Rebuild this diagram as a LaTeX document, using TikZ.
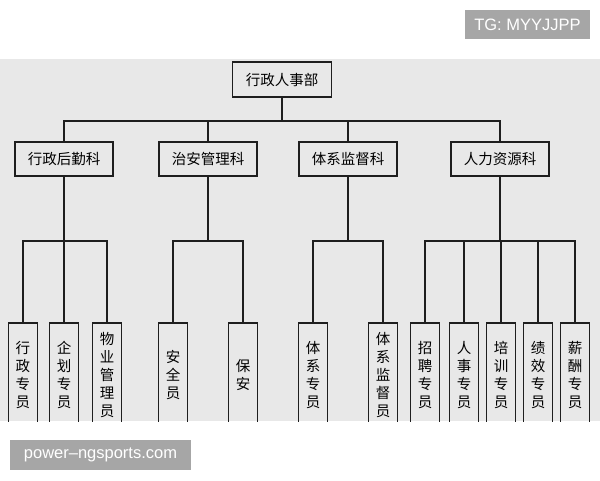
\documentclass[tikz,border=0pt]{standalone}
\usepackage{fontspec}
\newfontfamily\cjk{Noto Sans CJK SC}
\newfontfamily\wmfont{Liberation Sans}
\definecolor{bggray}{HTML}{E8E8E8}
\definecolor{wmgray}{HTML}{A6A6A6}
\definecolor{inkgray}{HTML}{1E1E1E}
\tikzset{
	dept/.style={draw=inkgray,line width=1.2pt,inner sep=0pt,minimum width=98pt,minimum height=34pt,font=\cjk\fontsize{14.5}{14.5}\selectfont},
	post/.style={draw=inkgray,line width=1.2pt,inner sep=0pt,minimum width=29pt,minimum height=104pt,align=center,font=\cjk\fontsize{14.5}{17.8}\selectfont},
	link/.style={draw=inkgray,line width=1.2pt},
	wmbox/.style={fill=wmgray,text=white,inner sep=0pt,font=\wmfont\fontsize{16.5}{16.5}\selectfont}
}
\begin{document}
\begin{tikzpicture}[x=1pt,y=-1pt]
		\useasboundingbox (0,0) rectangle (600,480);
		\fill[bggray] (0,59) rectangle (600,421);
		\begin{scope}
		\clip (0,59) rectangle (600,421);
		\node[dept,minimum width=99pt,minimum height=35pt] (top) at (282,79.5) {行政人事部};
		\node[dept] (k1) at (64,159) {行政后勤科};
		\node[dept] (k2) at (208,159) {治安管理科};
		\node[dept] (k3) at (348,159) {体系监督科};
		\node[dept] (k4) at (500,159) {人力资源科};
		\coordinate (b0) at (282,121);
		\draw[link] (top.south) -- (b0);
		\draw[link] (k1.north) |- (b0) -| (k4.north);
		\draw[link] (k2.north) -- (k2.north |- b0);
		\draw[link] (k3.north) -- (k3.north |- b0);
		\node[post] (p1) at (23,375) {行\\政\\专\\员};
		\node[post] (p2) at (64,375) {企\\划\\专\\员};
		\node[post] (p3) at (107,375) {物\\业\\管\\理\\员};
		\node[post] (p4) at (173,375) {安\\全\\员};
		\node[post] (p5) at (243,375) {保\\安};
		\node[post] (p6) at (313,375) {体\\系\\专\\员};
		\node[post] (p7) at (383,375) {体\\系\\监\\督\\员};
		\node[post] (p8) at (425,375) {招\\聘\\专\\员};
		\node[post] (p9) at (464,375) {人\\事\\专\\员};
		\node[post] (p10) at (501,375) {培\\训\\专\\员};
		\node[post] (p11) at (538,375) {绩\\效\\专\\员};
		\node[post] (p12) at (575,375) {薪\\酬\\专\\员};
		\coordinate (g1) at (64,241);
		\coordinate (g2) at (208,241);
		\coordinate (g3) at (348,241);
		\coordinate (g4) at (500,241);
		\draw[link] (k1.south) -- (g1);
		\draw[link] (k2.south) -- (g2);
		\draw[link] (k3.south) -- (g3);
		\draw[link] (k4.south) -- (g4);
		\draw[link] (p1.north) |- (g1) -| (p3.north);
		\draw[link] (p2.north) -- (g1);
		\draw[link] (p4.north) |- (g2) -| (p5.north);
		\draw[link] (p6.north) |- (g3) -| (p7.north);
		\draw[link] (p8.north) |- (g4) -| (p12.north);
		\draw[link] (p9.north) -- (p9.north |- g4);
		\draw[link] (p10.north) -- (p10.north |- g4);
		\draw[link] (p11.north) -- (p11.north |- g4);
		\end{scope}
		\node[wmbox,minimum width=125pt,minimum height=29pt] (tg) at (527.5,24.5) {TG: MYYJJPP};
		\node[wmbox,minimum width=181pt,minimum height=30pt] (site) at (100.5,455) {power–ngsports.com};
\end{tikzpicture}
\end{document}
